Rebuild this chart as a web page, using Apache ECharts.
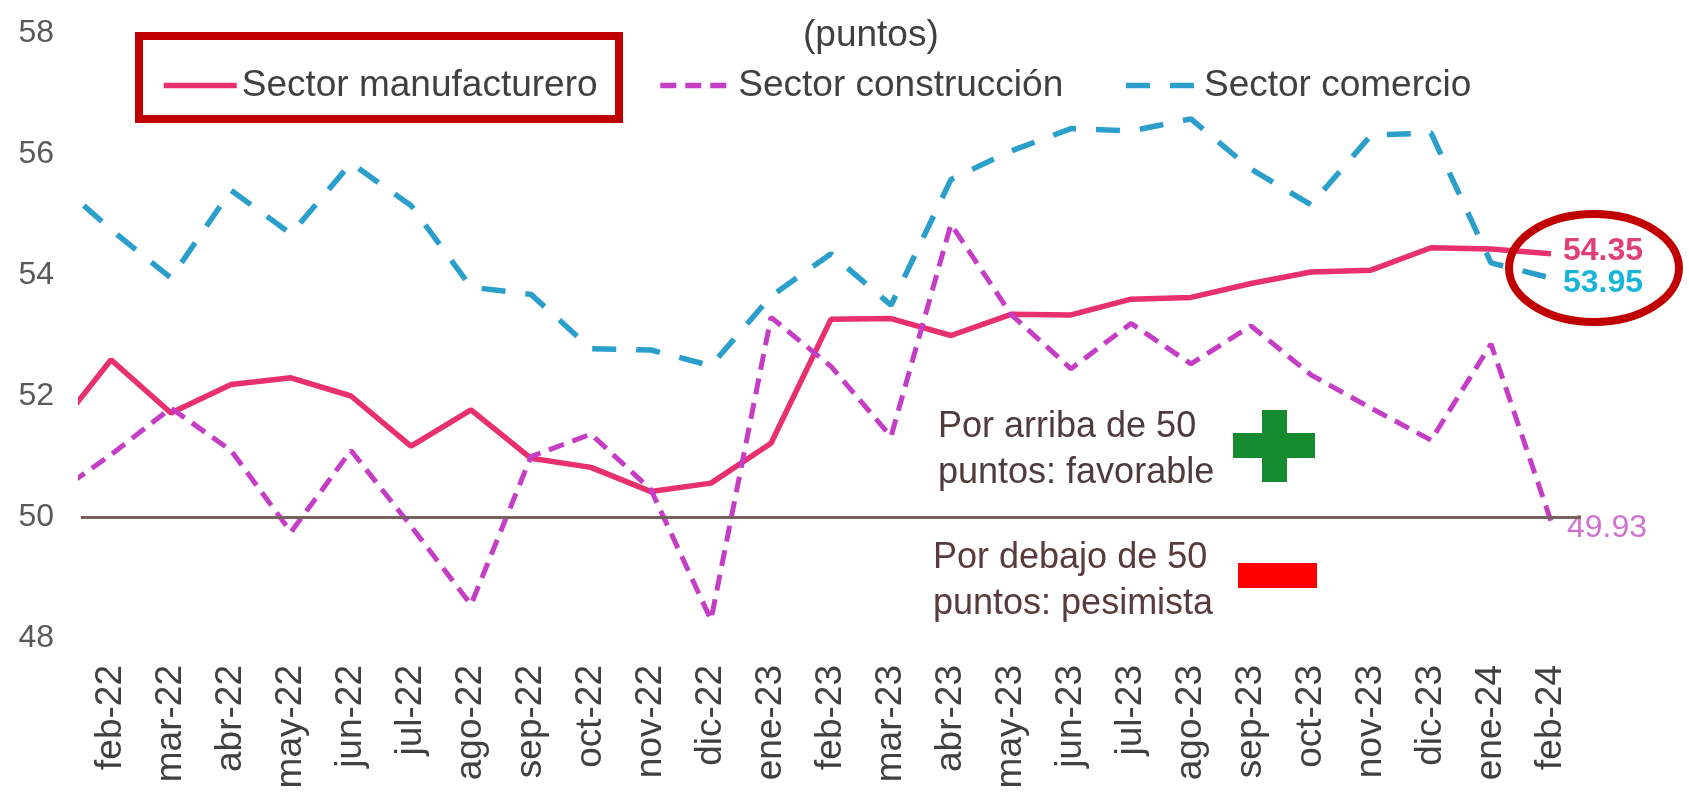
<!DOCTYPE html>
<html>
<head>
<meta charset="utf-8">
<script src="https://cdn.jsdelivr.net/npm/echarts@6/dist/echarts.min.js"></script>
<style>
html,body{margin:0;padding:0;background:#fff;}
#chart{width:1689px;height:793px;}
</style>
</head>
<body>
<div id="chart"></div>
<script>
// Month labels (feb-22 .. feb-24)
var months = ['feb-22','mar-22','abr-22','may-22','jun-22','jul-22','ago-22','sep-22','oct-22','nov-22','dic-22','ene-23','feb-23','mar-23','abr-23','may-23','jun-23','jul-23','ago-23','sep-23','oct-23','nov-23','dic-23','ene-24','feb-24'];
// Series values; the first value (ene-22) is only partly visible at the left edge
var manufacturero = [51.34, 52.6, 51.72, 52.19, 52.3, 52.0, 51.17, 51.77, 50.97, 50.82, 50.42, 50.56, 51.22, 53.27, 53.28, 53.0, 53.35, 53.34, 53.6, 53.63, 53.86, 54.05, 54.08, 54.45, 54.43, 54.35];
var construccion = [50.33, 51.03, 51.8, 51.1, 49.75, 51.1, 49.85, 48.55, 51.0, 51.37, 50.45, 48.3, 53.3, 52.49, 51.33, 54.84, 53.35, 52.45, 53.2, 52.53, 53.16, 52.35, 51.8, 51.27, 52.86, 49.93];
var comercio = [55.63, 54.75, 53.95, 55.4, 54.68, 55.85, 55.15, 53.8, 53.68, 52.78, 52.76, 52.5, 53.65, 54.35, 53.5, 55.58, 56.05, 56.42, 56.38, 56.58, 55.75, 55.16, 56.31, 56.35, 54.2, 53.95];
var yTicks = [48, 50, 52, 54, 56, 58];

function toPts(arr){ return arr.map(function(v,i){ return [i-1, v]; }); }

var FONT = 'Liberation Sans';
var chart = echarts.init(document.getElementById('chart'), null, {renderer:'canvas'});
var option = {
  animation: false,
  backgroundColor: '#ffffff',
  textStyle: {fontFamily: FONT},
  grid: {left: 81, right: 108, top: 33, bottom: 155, containLabel: false},
  legend: {
    top: 62, left: 156,
    itemWidth: 73, itemHeight: 14, itemGap: 60,
    itemStyle: {opacity: 0},
    lineStyle: {width: 5.5},
    textStyle: {fontSize: 37, color: '#404040', fontFamily: FONT},
    data: ['Sector manufacturero', 'Sector construcción', 'Sector comercio']
  },
  xAxis: [
    {type: 'category', data: months, boundaryGap: true,
     axisLine: {show: false}, axisTick: {show: false}, splitLine: {show:false},
     axisLabel: {rotate: 90, interval: 0, fontSize: 37, color: '#404040', margin: 27, fontFamily: FONT}},
    {type: 'value', min: -0.5, max: 24.5, show: false}
  ],
  yAxis: {
    type: 'value', min: yTicks[0], max: yTicks[yTicks.length-1], interval: 2,
    splitLine: {show: false}, axisLine: {show: false}, axisTick: {show: false},
    axisLabel: {fontSize: 32, color: '#595959', margin: 27, fontFamily: FONT}
  },
  series: [
    {name: 'Sector manufacturero', type: 'line', xAxisIndex: 1, data: toPts(manufacturero),
     symbol: 'none', z: 2, color: '#e8306f',
     lineStyle: {width: 5.5, color: '#e8306f'},
     endLabel: {show: true, distance: 12, offset: [0, -3], fontSize: 32, fontWeight: 'bold', color: '#e0407a', fontFamily: FONT,
       formatter: function(p){ return p.value[1].toFixed(2); }},
     markLine: {silent: true, symbol: 'none', label: {show: false},
       lineStyle: {color: '#76615f', width: 3, type: 'solid'}, data: [{yAxis: 50}]}
    },
    {name: 'Sector construcción', type: 'line', xAxisIndex: 1, data: toPts(construccion),
     symbol: 'none', z: 4, color: '#c53cc5',
     lineStyle: {width: 5, color: '#c53cc5', type: [16, 9]},
     endLabel: {show: true, distance: 16, offset: [0, 7], fontSize: 32, color: '#d070d0', fontFamily: FONT,
       formatter: function(p){ return p.value[1].toFixed(2); }}
    },
    {name: 'Sector comercio', type: 'line', xAxisIndex: 1, data: toPts(comercio),
     symbol: 'none', z: 3, color: '#2b9fcb',
     lineStyle: {width: 5.5, color: '#2b9fcb', type: [24, 20]},
     endLabel: {show: true, distance: 12, offset: [0, 5], fontSize: 32, fontWeight: 'bold', color: '#1ab4d8', fontFamily: FONT,
       formatter: function(p){ return p.value[1].toFixed(2); }}
    }
  ],
  graphic: [
    {type: 'text', left: 803, top: 17, style: {text: '(puntos)', fontSize: 37, fill: '#404040', fontFamily: FONT}},
    {type: 'rect', shape: {x: 139, y: 36, width: 480, height: 83}, style: {fill: 'none', stroke: '#c00000', lineWidth: 8}, z: 10},
    {type: 'ellipse', shape: {cx: 1594, cy: 268, rx: 85, ry: 54}, style: {fill: 'none', stroke: '#c00000', lineWidth: 8}, z: 10},
    {type: 'text', x: 938, y: 404, style: {text: 'Por arriba de 50\npuntos: favorable', fontSize: 36, lineHeight: 46, fill: '#4f3b3b', fontFamily: FONT}, z: 10},
    {type: 'rect', shape: {x: 1233, y: 433, width: 82, height: 25}, style: {fill: '#168a2e'}, z: 10},
    {type: 'rect', shape: {x: 1262, y: 410, width: 25, height: 72}, style: {fill: '#168a2e'}, z: 10},
    {type: 'text', x: 933, y: 535, style: {text: 'Por debajo de 50\npuntos: pesimista', fontSize: 36, lineHeight: 46, fill: '#5a3a3a', fontFamily: FONT}, z: 10},
    {type: 'rect', shape: {x: 1238, y: 563, width: 79, height: 25}, style: {fill: '#ff0000'}, z: 10}
  ]
};
chart.setOption(option);
</script>
</body>
</html>
